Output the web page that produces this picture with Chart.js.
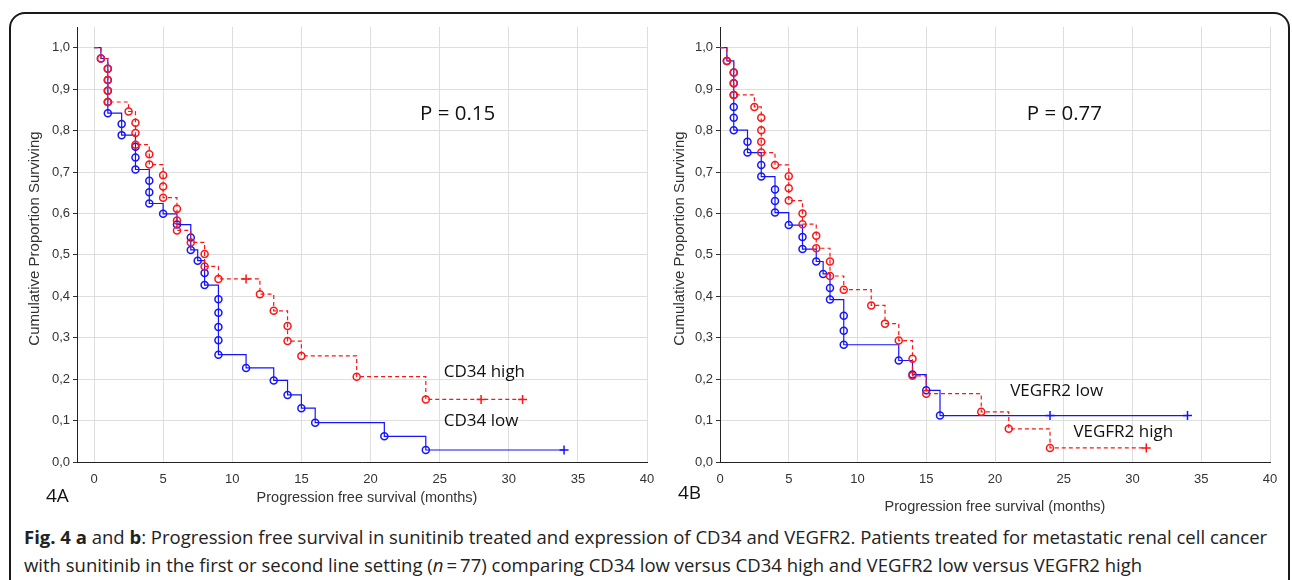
<!DOCTYPE html>
<html>
<head>
<meta charset="utf-8">
<script src="https://cdn.jsdelivr.net/npm/chart.js@4.4.1/dist/chart.umd.min.js"></script>
<style>
  body { margin: 0; background: #fff; width: 1292px; height: 580px; overflow: hidden; position: relative; font-family: 'Open Sans', sans-serif; }
  #frame { position: absolute; left: 9px; top: 12px; width: 1281px; height: 640px; border: 2px solid #1a1a1a; border-radius: 16px; box-sizing: border-box; }
  #c1 { position: absolute; left: 0; top: 0; }
  #c2 { position: absolute; left: 665px; top: 0; }
  .cap { position: absolute; left: 24px; font-size: 18.5px; color: #222; white-space: nowrap; line-height: 28px; }
</style>
</head>
<body>
<div id="frame"></div>
<canvas id="c1" width="665" height="520"></canvas>
<canvas id="c2" width="627" height="520"></canvas>
<div class="cap" style="top:523px"><b>Fig. 4 a</b> and <b>b</b>: Progression free survival in sunitinib treated and expression of CD34 and VEGFR2. Patients treated for metastatic renal cell cancer</div>
<div class="cap" style="top:551px">with sunitinib in the first or second line setting (<i>n</i>&thinsp;=&thinsp;77) comparing CD34 low versus CD34 high and VEGFR2 low versus VEGFR2 high</div>

<script>
// '' = start of curve, 'o' = event, '+' = censored
const cd34LowTime = [0, 0.5, 1, 1, 1, 1, 1, 2, 2, 3, 3, 3, 4, 4, 4, 5, 6, 7, 7, 7.5, 8, 8, 9, 9, 9, 9, 9, 11, 13, 14, 15, 16, 21, 24, 34]
const cd34LowSurv = [1, 0.974, 0.949, 0.922, 0.896, 0.869, 0.842, 0.816, 0.789, 0.761, 0.735, 0.706, 0.679, 0.651, 0.624, 0.599, 0.573, 0.542, 0.512, 0.486, 0.456, 0.427, 0.393, 0.360, 0.326, 0.294, 0.259, 0.227, 0.197, 0.162, 0.130, 0.095, 0.062, 0.029, 0.029]
const cd34LowMark = ['', 'o', 'o', 'o', 'o', 'o', 'o', 'o', 'o', 'o', 'o', 'o', 'o', 'o', 'o', 'o', 'o', 'o', 'o', 'o', 'o', 'o', 'o', 'o', 'o', 'o', 'o', 'o', 'o', 'o', 'o', 'o', 'o', 'o', '+']

const cd34HighTime = [0, 0.5, 1, 1, 1, 1, 2.5, 3, 3, 3, 4, 4, 5, 5, 5, 6, 6, 6, 7, 8, 8, 9, 11, 12, 13, 14, 14, 15, 19, 24, 28, 31]
const cd34HighSurv = [1, 0.974, 0.949, 0.922, 0.896, 0.869, 0.846, 0.819, 0.794, 0.766, 0.743, 0.718, 0.692, 0.665, 0.638, 0.611, 0.583, 0.559, 0.530, 0.502, 0.472, 0.442, 0.442, 0.405, 0.365, 0.328, 0.292, 0.256, 0.206, 0.151, 0.151, 0.151]
const cd34HighMark = ['', 'o', 'o', 'o', 'o', 'o', 'o', 'o', 'o', 'o', 'o', 'o', 'o', 'o', 'o', 'o', 'o', 'o', 'o', 'o', 'o', 'o', '+', 'o', 'o', 'o', 'o', 'o', 'o', 'o', '+', '+']

const vegfrLowTime = [0, 0.5, 1, 1, 1, 1, 1, 1, 2, 2, 3, 3, 4, 4, 4, 5, 6, 6, 7, 7.5, 8, 8, 9, 9, 9, 13, 14, 15, 16, 24, 34]
const vegfrLowSurv = [1, 0.968, 0.940, 0.914, 0.886, 0.857, 0.831, 0.801, 0.773, 0.747, 0.717, 0.689, 0.658, 0.630, 0.602, 0.572, 0.543, 0.514, 0.484, 0.454, 0.420, 0.392, 0.353, 0.317, 0.283, 0.245, 0.211, 0.173, 0.112, 0.112, 0.112]
const vegfrLowMark = ['', 'o', 'o', 'o', 'o', 'o', 'o', 'o', 'o', 'o', 'o', 'o', 'o', 'o', 'o', 'o', 'o', 'o', 'o', 'o', 'o', 'o', 'o', 'o', 'o', 'o', 'o', 'o', 'o', '+', '+']

const vegfrHighTime = [0, 0.5, 1, 1, 1, 2.5, 3, 3, 3, 3, 4, 5, 5, 5, 6, 6, 7, 7, 8, 8, 9, 11, 12, 13, 14, 14, 15, 19, 21, 24, 31]
const vegfrHighSurv = [1, 0.968, 0.940, 0.914, 0.886, 0.857, 0.831, 0.801, 0.773, 0.747, 0.717, 0.690, 0.661, 0.631, 0.600, 0.574, 0.546, 0.516, 0.484, 0.449, 0.416, 0.378, 0.334, 0.293, 0.249, 0.208, 0.165, 0.121, 0.080, 0.034, 0.034]
const vegfrHighMark = ['', 'o', 'o', 'o', 'o', 'o', 'o', 'o', 'o', 'o', 'o', 'o', 'o', 'o', 'o', 'o', 'o', 'o', 'o', 'o', 'o', 'o', 'o', 'o', 'o', 'o', 'o', 'o', 'o', 'o', '+']

const xTicks = [0, 5, 10, 15, 20, 25, 30, 35, 40]
const yTicks = [0, 0.1, 0.2, 0.3, 0.4, 0.5, 0.6, 0.7, 0.8, 0.9, 1.0]

const BLUE = 'rgb(20,20,255)'
const RED = 'rgb(255,20,20)'
const tickFont = {family: '"Liberation Sans", Arial, sans-serif', size: 13}

const curve = (time, surv, mark, color, dashed) => ({
    data: time.map((t, i) => ({x: t, y: surv[i]})),
    borderColor: color,
    borderWidth: 1.2,
    borderDash: dashed ? [4, 3] : [],
    stepped: 'before',
    fill: false,
    pointStyle: mark.map(m => m === '+' ? 'cross' : 'circle'),
    pointRadius: mark.map(m => m === '' ? 0 : m === '+' ? 4.5 : 3.5),
    pointBorderWidth: 1.5,
    pointBorderColor: color,
    pointBackgroundColor: 'rgba(0,0,0,0)',
    order: dashed ? 0 : 1
})

const panelText = {
    id: 'panelText',
    afterDraw(chart, args, o) {
        const {ctx, chartArea: a, scales: {x, y}} = chart
        ctx.save()
        ctx.fillStyle = '#333'
        ctx.textAlign = 'center'
        ctx.textBaseline = 'middle'
        ctx.font = '14.5px "Liberation Sans", Arial, sans-serif'
        ctx.fillText('Progression free survival (months)', o.xTitleX, o.xTitleY)
        ctx.save()
        ctx.translate(o.yTitleX, (a.top + a.bottom) / 2 - 6)
        ctx.rotate(-Math.PI / 2)
        ctx.font = '15px "Liberation Sans", Arial, sans-serif'
        ctx.fillText('Cumulative Proportion Surviving', 0, 0)
        ctx.restore()

        ctx.fillStyle = '#111'
        o.labels.forEach(l => {
            ctx.font = l.size + 'px "Open Sans", sans-serif'
            ctx.textAlign = l.align
            ctx.fillText(l.text, x.getPixelForValue(l.x), y.getPixelForValue(l.y))
        })
        ctx.textAlign = 'left'
        ctx.font = '19px "Open Sans", sans-serif'
        ctx.fillText(o.tag, o.tagX, o.tagY)
        ctx.restore()
    }
}

const makeChart = (id, xMin, yAxisWidth, padRight, datasets, text) => new Chart(document.getElementById(id), {
    type: 'line',
    data: {datasets},
    options: {
        responsive: false,
        animation: false,
        events: [],
        layout: {padding: {top: 27, right: padRight, left: 0, bottom: 0}},
        plugins: {legend: {display: false}, tooltip: {enabled: false}, panelText: text},
        scales: {
            x: {
                type: 'linear', min: xMin, max: 40,
                afterBuildTicks: s => { s.ticks = xTicks.map(v => ({value: v})) },
                afterFit: s => { s.height = 520 - 462 },
                grid: {color: '#dedede', lineWidth: 1, drawTicks: false},
                border: {color: '#222', width: 1},
                ticks: {autoSkip: false, maxRotation: 0, padding: 10, color: '#333', font: tickFont, callback: v => String(v)}
            },
            y: {
                min: 0, max: 1.05,
                afterBuildTicks: s => { s.ticks = yTicks.map(v => ({value: v})) },
                afterFit: s => { s.width = yAxisWidth },
                grid: {color: '#dedede', lineWidth: 1, tickLength: 4, tickColor: '#333'},
                border: {color: '#222', width: 1},
                ticks: {autoSkip: false, padding: 3, color: '#333', font: tickFont, callback: v => v.toFixed(1).replace('.', ',')}
            }
        }
    },
    plugins: [panelText]
})

makeChart('c1', -1.23, 77, 18, [
    curve(cd34LowTime, cd34LowSurv, cd34LowMark, BLUE, false),
    curve(cd34HighTime, cd34HighSurv, cd34HighMark, RED, true)
], {
    xTitleX: 367, xTitleY: 498, yTitleX: 35, tag: '4A', tagX: 46, tagY: 497,
    labels: [
        {text: 'P = 0.15', x: 26.3, y: 0.84, align: 'center', size: 20.5},
        {text: 'CD34 high', x: 25.3, y: 0.216, align: 'left', size: 17},
        {text: 'CD34 low', x: 25.3, y: 0.098, align: 'left', size: 17}
    ]
})

makeChart('c2', 0, 55, 22, [
    curve(vegfrLowTime, vegfrLowSurv, vegfrLowMark, BLUE, false),
    curve(vegfrHighTime, vegfrHighSurv, vegfrHighMark, RED, true)
], {
    xTitleX: 330, xTitleY: 507, yTitleX: 15, tag: '4B', tagX: 13, tagY: 494,
    labels: [
        {text: 'P = 0.77', x: 25.05, y: 0.84, align: 'center', size: 20.5},
        {text: 'VEGFR2 low', x: 21.1, y: 0.17, align: 'left', size: 17},
        {text: 'VEGFR2 high', x: 25.7, y: 0.073, align: 'left', size: 17}
    ]
})
</script>
</body>
</html>
